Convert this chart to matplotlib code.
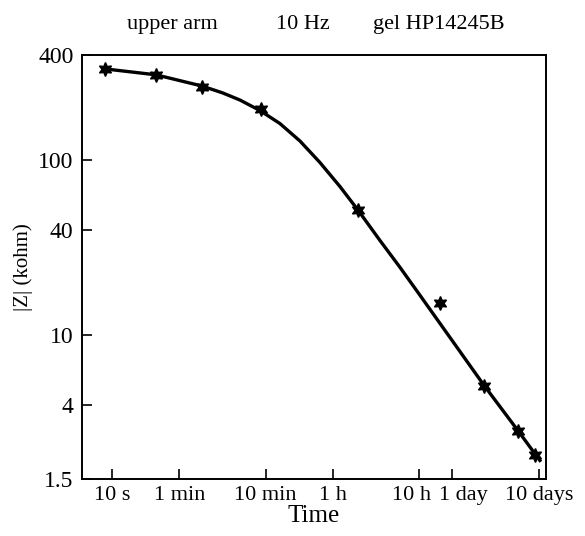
import numpy as np
import matplotlib.pyplot as plt
import matplotlib.transforms as mtransforms
from matplotlib.ticker import NullLocator

plt.rcParams['font.family'] = ['Liberation Serif', 'DejaVu Serif']

# measured points (time in seconds, |Z| in kohm)
meas_t = [8.3, 32, 109, 528, 7030, 62000, 200000, 490000, 776000]
meas_z = [334, 309, 262, 197, 51.8, 15.2, 5.1, 2.83, 2.06]

# fitted curve
fit_t = [8.3, 32.3, 110, 192, 302, 514, 875, 1491, 2539, 4323, 6981,
         12540, 21360, 34480, 199800, 493900, 887300]
fit_z = [334, 309, 266.6, 243.1, 221.7, 193.1, 162.7, 129.3, 97.4, 71.0, 52.1,
         34.9, 24.5, 17.6, 5.18, 2.85, 1.92]

xtick_vals = [10, 60, 600, 3600, 36000, 86400, 864000]
xtick_labels = ["10 s", "1 min", "10 min", "1 h", "10 h", "1 day", "10 days"]
ytick_vals = [1.5, 4, 10, 40, 100, 400]
ytick_labels = ["1.5", "4", "10", "40", "100", "400"]

fig = plt.figure(figsize=(5.85, 5.36), dpi=100)
ax = fig.add_axes([0.140, 0.106, 0.793, 0.791])

ax.plot(fit_t, fit_z, color="black", linewidth=2.4)
ax.plot(meas_t, meas_z, linestyle="none", marker=(6, 1, 0), markersize=10,
        color="black")

ax.set_xscale("log")
ax.set_yscale("log")
ax.set_xlim(4.5, 1.04e6)
ax.set_ylim(1.5, 400)

ax.xaxis.set_minor_locator(NullLocator())
ax.yaxis.set_minor_locator(NullLocator())
ax.set_xticks(xtick_vals)
ax.set_xticklabels(xtick_labels, fontsize=16)
ax.set_yticks(ytick_vals)
ax.set_yticklabels(ytick_labels, fontsize=17)
ax.tick_params(direction="in", length=7, width=1.2)
ax.tick_params(axis="x", pad=5)
ax.tick_params(axis="y", pad=6)

# "10 h" and "1 day" sit close together; nudge them apart like the original
shifts = {"10 h": -8, "1 day": 11}
for lab in ax.get_xticklabels():
    dx = shifts.get(lab.get_text(), 0)
    if dx:
        lab.set_transform(lab.get_transform() +
                          mtransforms.ScaledTranslation(dx / 100, 0, fig.dpi_scale_trans))

for s in ax.spines.values():
    s.set_linewidth(1.4)

ax.set_xlabel("Time", fontsize=18, labelpad=0)
ax.set_ylabel("|Z| (kohm)", fontsize=15, labelpad=4)

fig.text(0.294, 0.955, "upper arm", fontsize=16, ha="center", va="center")
fig.text(0.518, 0.955, "10 Hz", fontsize=16, ha="center", va="center")
fig.text(0.750, 0.955, "gel HP14245B", fontsize=16, ha="center", va="center")

fig.savefig("out.png", dpi=100)
